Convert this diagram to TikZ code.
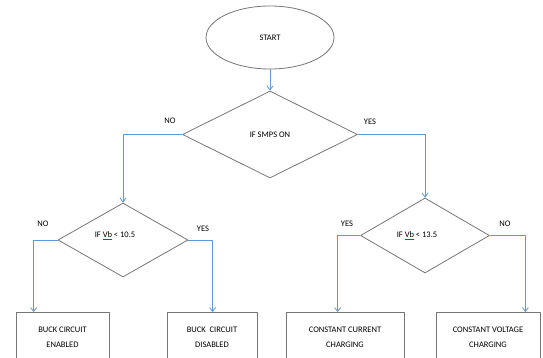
\documentclass[tikz,border=0pt]{standalone}
\usepackage{fontspec}
\setmainfont{Carlito}
\usetikzlibrary{shapes.geometric,arrows.meta}
\definecolor{linkcol}{RGB}{91,155,213}
\definecolor{shapecol}{RGB}{118,118,118}
\newcommand{\vbmark}{{\color{red}\underline{\color{black}Vb}}}

\begin{document}
\begin{tikzpicture}[>={Straight Barb[length=4bp,width=6bp]},line join=bevel,
  every node/.style={font=\fontsize{8.5bp}{15bp}\selectfont},
  term/.style={draw=shapecol,ellipse,inner sep=0pt,minimum width=128bp,minimum height=63bp},
  test/.style={draw=shapecol,diamond,inner sep=0pt},
  stepbox/.style={draw=shapecol,rectangle,align=center,inner sep=0pt,minimum height=50bp},
  flow/.style={draw=linkcol,->},
  ]
  \pgfsetlinewidth{0.8bp}
  \clip (0bp,0bp) rectangle (543bp,358bp);
%%
  % Node: start
  \node [term] (start) at (270bp,320.5bp) {START};
  % Node: smps
  \node [test,minimum width=175bp,minimum height=87bp] (smps) at (270bp,223.5bp) {IF SMPS ON};
  % Node: lowvb
  \node [test,minimum width=130bp,minimum height=74bp,
    label={[xshift=-8bp,yshift=4bp]center:{IF \vbmark{} < 10.5}}] (lowvb) at (123bp,118bp) {};
  % Node: highvb
  \node [test,minimum width=129bp,minimum height=75bp,
    label={[xshift=-8bp,yshift=0bp]center:{IF \vbmark{} < 13.5}}] (highvb) at (425bp,122.5bp) {};
  % Node: enabled
  \node [stepbox,minimum width=93bp] (enabled) at (62.5bp,20.5bp) {BUCK CIRCUIT\\ENABLED};
  % Node: disabled
  \node [stepbox,minimum width=90bp] (disabled) at (212bp,20.5bp) {BUCK\ \ CIRCUIT\\DISABLED};
  % Node: ccharge
  \node [stepbox,minimum width=118bp] (ccharge) at (345bp,20.5bp) {CONSTANT CURRENT\\CHARGING};
  % Node: vcharge
  \node [stepbox,minimum width=104bp] (vcharge) at (488bp,20.5bp) {CONSTANT VOLTAGE\\CHARGING};
  % Branch labels
  \node (smpsno) at (170bp,237bp) {NO};
  \node (smpsyes) at (370bp,236bp) {YES};
  \node (lowno) at (43bp,134bp) {NO};
  \node (lowyes) at (203bp,129bp) {YES};
  \node (highyes) at (347bp,134bp) {YES};
  \node (highno) at (505bp,134bp) {NO};
%
  % Edge: start -> smps
  \draw [flow] (start) -- (smps);
  % Edge: smps -> lowvb
  \draw [flow] (smps.west) -| (lowvb.north);
  % Edge: smps -> highvb
  \draw [flow] (smps.east) -| (highvb.north);
  % Edge: lowvb -> enabled
  \draw [flow] (lowvb.west) -| ([xshift=18bp]enabled.north west);
  % Edge: lowvb -> disabled
  \draw [flow] (lowvb.east) -| ([xshift=46bp]disabled.north west);
  % Edge: highvb -> ccharge
  \draw [flow] (highvb.west) -| ([xshift=52bp]ccharge.north west);
  % Edge: highvb -> vcharge
  \draw [flow] (highvb.east) -| ([xshift=-15bp]vcharge.north east);
%
\end{tikzpicture}
\end{document}
